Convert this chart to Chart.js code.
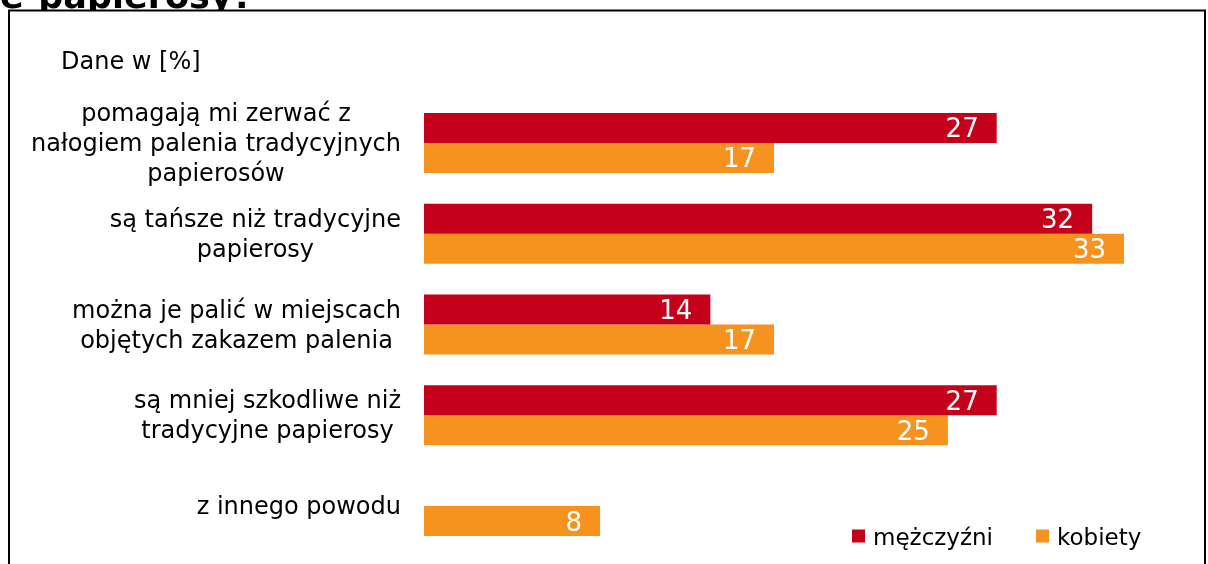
<!DOCTYPE html>
<html lang="pl">
<head>
<meta charset="utf-8">
<title>e-papierosy</title>
<script src="https://cdn.jsdelivr.net/npm/chart.js@4.4.1/dist/chart.umd.min.js"></script>
<style>
  html, body { margin: 0; padding: 0; background: #fff; overflow: hidden; }
  #chart { position: absolute; left: 0; top: 0; }
</style>
</head>
<body>
<canvas id="chart" width="1208" height="564"></canvas>
<script>
// =========================
// 데이터
// =========================
const categories = [
  ["pomagają mi zerwać z", "nałogiem palenia tradycyjnych", "papierosów"],
  ["są tańsze niż tradycyjne", "papierosy"],
  ["można je palić w miejscach", "objętych zakazem palenia"],
  ["są mniej szkodliwe niż", "tradycyjne papierosy"],
  ["z innego powodu"],
];
const seriesNames = ["mężczyźni", "kobiety"];
const menValues = [27, 31.5, 13.5, 27, null];
const womenValues = [16.5, 33, 16.5, 24.7, 8.3];
const axisMax = 36;

const titleText = "e-papierosy?";
const unitText = "Dane w [%]";

const RED = "#C5001A";
const ORANGE = "#F6921E";
const FONT = '"DejaVu Sans", Verdana, sans-serif';

// =========================
// 배경, 제목, 테두리
// =========================
const framePlugin = {
  id: "frame",
  beforeDraw(chart) {
    const { ctx } = chart;
    ctx.save();
    ctx.fillStyle = "#fff";
    ctx.fillRect(0, 0, chart.width, chart.height);

    ctx.fillStyle = "#000";
    ctx.font = `bold 35px ${FONT}`;
    ctx.textAlign = "left";
    ctx.textBaseline = "alphabetic";
    ctx.fillText(titleText, 0, 8);

    // 박스가 제목 아래쪽을 덮는다
    ctx.fillStyle = "#fff";
    ctx.fillRect(9, 10.5, 1196, 600);
    ctx.strokeStyle = "#000";
    ctx.lineWidth = 2;
    ctx.strokeRect(9, 10.5, 1196, 600);

    ctx.fillStyle = "#000";
    ctx.font = `24px ${FONT}`;
    ctx.fillText(unitText, 61, 69);
    ctx.restore();
  },
};

// =========================
// 카테고리 라벨 (각 라벨 블록별 가운데 정렬)
// =========================
const categoryLabelPlugin = {
  id: "categoryLabels",
  afterDraw(chart) {
    const { ctx } = chart;
    const yScale = chart.scales.y;
    const labelRight = 401;
    const lineHeight = 30;

    ctx.save();
    ctx.font = `24px ${FONT}`;
    ctx.fillStyle = "#000";
    ctx.textAlign = "center";
    ctx.textBaseline = "alphabetic";

    categories.forEach((lines, i) => {
      const widest = Math.max(...lines.map((l) => ctx.measureText(l).width));
      const cx = labelRight - widest / 2;
      const cy = yScale.getPixelForValue(i);

      lines.forEach((line, j) => {
        const ly = cy + (j - (lines.length - 1) / 2) * lineHeight;
        ctx.fillText(line, cx, ly + 8);
      });
    });
    ctx.restore();
  },
};

// =========================
// 막대 안쪽 값 라벨
// =========================
const valueLabelPlugin = {
  id: "valueLabels",
  afterDatasetsDraw(chart) {
    const { ctx } = chart;
    ctx.save();
    ctx.font = `26px ${FONT}`;
    ctx.fillStyle = "#fff";
    ctx.textAlign = "right";
    ctx.textBaseline = "alphabetic";

    chart.data.datasets.forEach((dataset, d) => {
      chart.getDatasetMeta(d).data.forEach((bar, i) => {
        const value = dataset.data[i];
        if (value === null || value === undefined) return;
        ctx.fillText(String(Math.round(value)), bar.x - 18, bar.y + 9.5);
      });
    });
    ctx.restore();
  },
};

// =========================
// 범례 (오른쪽 아래)
// =========================
const legendPlugin = {
  id: "customLegend",
  afterDraw(chart) {
    const { ctx } = chart;
    let x = 852;
    const y = 545;

    ctx.save();
    ctx.font = `23px ${FONT}`;
    ctx.textAlign = "left";
    ctx.textBaseline = "alphabetic";

    chart.data.datasets.forEach((dataset) => {
      ctx.fillStyle = dataset.backgroundColor;
      ctx.fillRect(x, y - 15.5, 13, 13);
      ctx.fillStyle = "#000";
      ctx.fillText(dataset.label, x + 21, y);
      x += 21 + ctx.measureText(dataset.label).width + 43;
    });
    ctx.restore();
  },
};

// =========================
// 차트
// =========================
new Chart(document.querySelector("#chart").getContext("2d"), {
  type: "bar",
  data: {
    labels: categories,
    datasets: [
      {
        label: seriesNames[0],
        data: menValues,
        backgroundColor: RED,
        borderWidth: 0,
        barPercentage: 1,
        categoryPercentage: 0.661,
      },
      {
        label: seriesNames[1],
        data: womenValues,
        backgroundColor: ORANGE,
        borderWidth: 0,
        barPercentage: 1,
        categoryPercentage: 0.661,
      },
    ],
  },
  options: {
    indexAxis: "y",
    responsive: false,
    animation: false,
    layout: {
      padding: { left: 424, right: 20.4, top: 97.6, bottom: 12.6 },
    },
    plugins: {
      legend: { display: false },
      tooltip: { enabled: false },
    },
    scales: {
      x: { display: false, min: 0, max: axisMax },
      y: { display: false },
    },
  },
  plugins: [framePlugin, categoryLabelPlugin, valueLabelPlugin, legendPlugin],
});
</script>
</body>
</html>
